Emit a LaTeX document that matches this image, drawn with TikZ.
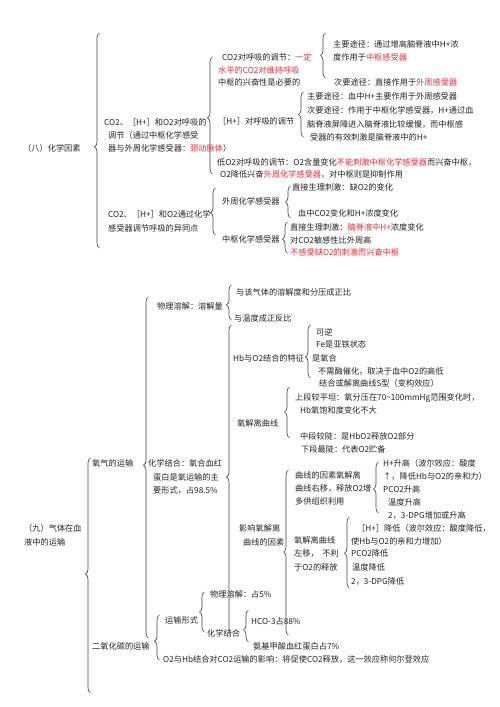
\documentclass[tikz,border=0pt]{standalone}
\usepackage{fontspec}
\setmainfont{Noto Sans CJK SC}
\usetikzlibrary{decorations.pathreplacing}
\definecolor{txt}{RGB}{35,35,35}
\definecolor{hot}{RGB}{238,45,55}
\definecolor{brc}{RGB}{70,70,70}
\newcommand{\rd}[1]{\textcolor{hot}{#1}}
\begin{document}
\begin{tikzpicture}[x=1pt,y=-1pt,
  t/.style={anchor=west,inner sep=0pt,text=txt,font=\fontsize{8.2}{10}\selectfont},
  br/.style={draw=brc,line width=0.65pt,decorate,decoration={brace,amplitude=5pt,aspect=#1}},
  br/.default=0.5]
\useasboundingbox[fill=white] (0,0) rectangle (500,707);

% ---------- Section 8 ----------
\node[t] (t1) at (23,148) {（八）化学因素};
\node[t] (t2a) at (104,122) {CO2、［H+］和O2对呼吸的};
\node[t] (t2b) at (108,135) {调节（通过中枢化学感受};
\node[t] (t2c) at (108,148) {器与外周化学感受器：\rd{颈动脉体}）};
\node[t] (t3a) at (222,57) {CO2对呼吸的调节：\rd{一定}};
\node[t] (t3b) at (218,70) {\rd{水平的CO2对维持呼吸}};
\node[t] (t3c) at (218,82) {中枢的兴奋性是必要的};
\node[t] (t4a) at (333,44) {主要途径：通过增高脑脊液中H+浓};
\node[t] (t4b) at (333,57) {度作用于\rd{中枢感受器}};
\node[t] (t5) at (334,82) {次要途径：直接作用于\rd{外周感受器}};
\node[t] (t6) at (218,121) {［H+］对呼吸的调节};
\node[t] (t7a) at (307,96) {主要途径：血中H+主要作用于外周感受器};
\node[t] (t7b) at (307,110) {次要途径：作用于中枢化学感受器，H+通过血};
\node[t] (t7c) at (307,124) {脑脊液屏障进入脑脊液比较缓慢，而中枢感};
\node[t] (t7d) at (310,137) {受器的有效刺激是脑脊液中的H+};
\node[t] (t8a) at (217,162) {低O2对呼吸的调节：O2含量变化\rd{不能刺激中枢化学感受器}而兴奋中枢，};
\node[t] (t8b) at (220,174) {O2降低兴奋\rd{外周化学感受器}，对中枢则是抑制作用};
\node[t] (t9a) at (108,214) {CO2、［H+］和O2通过化学};
\node[t] (t9b) at (108,228) {感受器调节呼吸的异同点};
\node[t] (t10) at (222,201) {外周化学感受器};
\node[t] (t11) at (292,187) {直接生理刺激：缺O2的变化};
\node[t] (t12) at (298,213) {血中CO2变化和H+浓度变化};
\node[t] (t13) at (222,239) {中枢化学感受器};
\node[t] (t14a) at (290,227) {直接生理刺激：\rd{脑脊液中H+}浓度变化};
\node[t] (t14b) at (290,240) {对CO2敏感性比外周高};
\node[t] (t14c) at (290,252) {\rd{不感受缺O2的刺激而兴奋中枢}};

% braces section 8
\coordinate (b1s) at (99.5,248); \coordinate (b1e) at (99.5,33);
\draw[br=0.47] (b1s) -- (b1e);
\coordinate (b2s) at (212.5,174); \coordinate (b2e) at (212.5,57);
\draw[br=0.48] (b2s) -- (b2e);
\coordinate (b3s) at (325.5,78); \coordinate (b3e) at (325.5,33);
\draw[br] (b3s) -- (b3e);
\coordinate (b4s) at (303.5,137); \coordinate (b4e) at (303.5,92);
\draw[br] (b4s) -- (b4e);
\coordinate (b5s) at (215.5,235); \coordinate (b5e) at (215.5,188);
\draw[br=0.47] (b5s) -- (b5e);
\coordinate (b6s) at (290.5,218); \coordinate (b6e) at (290.5,186);
\draw[br] (b6s) -- (b6e);
\coordinate (b7s) at (287.5,253); \coordinate (b7e) at (287.5,222);
\draw[br=0.45] (b7s) -- (b7e);

% ---------- Section 9 ----------
\node[t] (u1a) at (24,528) {（九）气体在血};
\node[t] (u1b) at (24,542) {液中的运输};
\node[t] (u2) at (92,463) {氧气的运输};
\node[t] (u3) at (157,306) {物理溶解：溶解量};
\node[t] (u4) at (236,292) {与该气体的溶解度和分压成正比};
\node[t] (u5) at (234,318) {与温度成正反比};
\node[t] (u6a) at (148,463) {化学结合：氧合血红};
\node[t] (u6b) at (153,477) {蛋白是氧运输的主};
\node[t] (u6c) at (153,490) {要形式，占98.5\%};
\node[t] (u7) at (233,358) {Hb与O2结合的特征};
\node[t] (u8a) at (316,332) {可逆};
\node[t] (u8b) at (316,344) {Fe是亚铁状态};
\node[t] (u8c) at (312,358) {是氧合};
\node[t] (u8d) at (318,371) {不需酶催化，取决于血中O2的高低};
\node[t] (u8e) at (319,383) {结合或解离曲线S型（变构效应）};
\node[t] (u9) at (237,423) {氧解离曲线};
\node[t] (u10a) at (295,398) {上段较平坦：氧分压在70\textasciitilde 100mmHg范围变化时，};
\node[t] (u10b) at (300,410) {Hb氧饱和度变化不大};
\node[t] (u10c) at (300,436) {中段较陡：是HbO2释放O2部分};
\node[t] (u10d) at (301,449) {下段最陡：代表O2贮备};
\node[t] (u11a) at (239,528) {影响氧解离};
\node[t] (u11b) at (243,542) {曲线的因素};
\node[t] (u12a) at (295,475) {曲线的因素氧解离};
\node[t] (u12b) at (295,488) {曲线右移，释放O2增};
\node[t] (u12c) at (295,501) {多供组织利用};
\node[t] (u13a) at (383,463) {H+升高（波尔效应：酸度};
\node[t] (u13b) at (383,476) {↑，降低Hb与O2的亲和力）};
\node[t] (u13c) at (383,489) {PCO2升高};
\node[t] (u13d) at (388,502) {温度升高};
\node[t] (u13e) at (388,515) {2，3-DPG增加或升高};
\node[t] (u14a) at (294,540) {氧解离曲线};
\node[t] (u14b) at (294,553) {左移，\ \ 不利};
\node[t] (u14c) at (294,567) {于O2的释放};
\node[t] (u15a) at (357,528) {［H+］降低（波尔效应：酸度降低，};
\node[t] (u15b) at (351,541) {使Hb与O2的亲和力增加）};
\node[t] (u15c) at (351,553) {PCO2降低};
\node[t] (u15d) at (352,567) {温度降低};
\node[t] (u15e) at (351,581) {2，3-DPG降低};
\node[t] (u16) at (92,646) {二氧化碳的运输};
\node[t] (u17) at (165,620) {运输形式};
\node[t] (u18) at (210,594) {物理溶解：占5\%};
\node[t] (u19) at (207,633) {化学结合};
\node[t] (u20) at (251,621) {HCO-3占88\%};
\node[t] (u21) at (253,646) {氨基甲酸血红蛋白占7\%};
\node[t] (u22) at (163,659) {O2与Hb结合对CO2运输的影响：将促使CO2释放，这一效应称何尔登效应};

% braces section 9
\coordinate (b8s) at (90.5,693); \coordinate (b8e) at (90.5,458);
\draw[br=0.506] (b8s) -- (b8e);
\coordinate (b9s) at (148.5,638); \coordinate (b9e) at (148.5,297);
\draw[br=0.507] (b9s) -- (b9e);
\coordinate (b10s) at (231.5,320); \coordinate (b10e) at (231.5,285);
\draw[br=0.43] (b10s) -- (b10e);
\coordinate (b11s) at (231.5,633); \coordinate (b11e) at (231.5,325);
\draw[br=0.506] (b11s) -- (b11e);
\coordinate (b12s) at (310.5,378); \coordinate (b12e) at (310.5,325);
\draw[br=0.4] (b12s) -- (b12e);
\coordinate (b13s) at (289.5,438); \coordinate (b13e) at (289.5,387);
\draw[br=0.51] (b13s) -- (b13e);
\coordinate (b14s) at (288.5,635); \coordinate (b14e) at (288.5,470);
\draw[br=0.503] (b14s) -- (b14e);
\coordinate (b15s) at (378.5,513); \coordinate (b15e) at (378.5,462);
\draw[br=0.47] (b15s) -- (b15e);
\coordinate (b16s) at (349.5,588); \coordinate (b16e) at (349.5,517);
\draw[br=0.49] (b16s) -- (b16e);
\coordinate (b17s) at (159.5,660); \coordinate (b17e) at (159.5,615);
\draw[br=0.42] (b17s) -- (b17e);
\coordinate (b18s) at (204.5,632); \coordinate (b18e) at (204.5,592);
\draw[br] (b18s) -- (b18e);
\coordinate (b19s) at (248.5,642); \coordinate (b19e) at (248.5,610);
\draw[br=0.375] (b19s) -- (b19e);
\end{tikzpicture}
\end{document}
